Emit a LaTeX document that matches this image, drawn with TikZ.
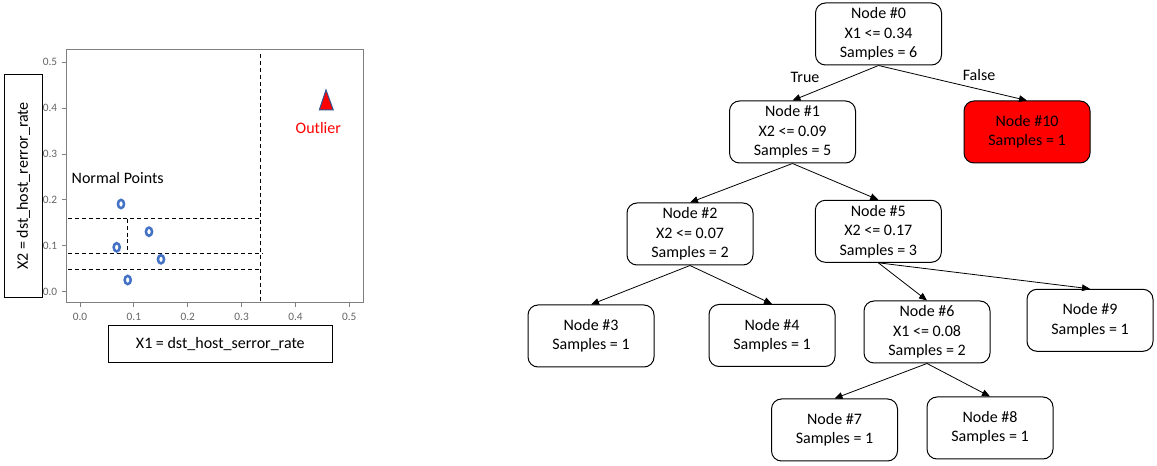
\documentclass[tikz,border=0pt]{standalone}
\usepackage{fontspec}
\setmainfont{Carlito}
\usetikzlibrary{arrows.meta}
\definecolor{ptblue}{RGB}{68,114,196}
\definecolor{edgeblue}{RGB}{47,82,143}
\definecolor{axisgray}{RGB}{128,128,128}
\definecolor{tickgray}{RGB}{100,100,100}
\tikzset{
	treenode/.style={draw,line width=0.75pt,rounded corners=7.5pt,minimum width=94.5pt,minimum height=46.5pt,inner sep=0pt,align=center},
	treearrow/.style={-{Triangle[length=6pt,width=5pt]},line width=0.6pt},
	cutline/.style={dashed,dash pattern=on 3pt off 2.2pt,line width=0.75pt},
	sample/.style={ptblue,line width=1.9pt},
	axislabel/.style={draw,line width=0.75pt,inner sep=0pt},
	ticklabel/.style={tickgray,font=\fontsize{8.5}{10}\selectfont}
}

\begin{document}
\begin{tikzpicture}[x=0.75pt,y=-0.75pt,font=\fontsize{12}{14.6}\selectfont]
	\useasboundingbox (0,0) rectangle (1157,466);
	\draw[axisgray,line width=0.75pt] (66,50) rectangle (363,303);
	\foreach \i in {0,...,5}{
		\draw[axisgray,line width=0.75pt] ({80+53.86*\i},303)--++(0,4);
		\node[ticklabel] (xt\i) at ({80+53.86*\i},316.7) {0.\i};
		\draw[axisgray,line width=0.75pt] (66,{291.7-45.87*\i})--++(-4,0);
		\node[ticklabel] (yt\i) at (50,{291.7-45.87*\i}) {0.\i};
	}
	\draw[cutline] (260.3,54)--(260.3,301.7);
	\draw[cutline] (68,218.7)--(260.3,218.7);
	\draw[cutline] (68,253.7)--(262.7,253.7);
	\draw[cutline] (68,269.7)--(260.3,269.7);
	\draw[cutline] (127.7,218.7)--(127.7,253.7);
	\foreach \px/\py in {121/204,149/231.7,116.7/247.3,161/259.3,127.7/280}
		\draw[sample] (\px,\py) ellipse [x radius=2.3pt,y radius=3.1pt];
	\filldraw[fill=red,draw=edgeblue,line width=0.75pt] (326,90)--(333.3,110)--(319.3,110)--cycle;
	\node[red] (outlier) at (318.3,128.3) {Outlier};
	\node (normal) at (117.7,177.7) {Normal Points};
	\node[axislabel,rotate=90,minimum width=167.5pt,minimum height=28.5pt] (ylabel) at (23.3,186) {X2 = dst\_host\_rerror\_rate};
	\node[axislabel,minimum width=168pt,minimum height=28pt] (xlabel) at (220.3,343.7) {X1 = dst\_host\_serror\_rate};

	\node[treenode] (n0) at (878.5,34) {Node \#0\\X1 <= 0.34\\Samples = 6};
	\node[treenode] (n1) at (792.5,132) {Node \#1\\X2 <= 0.09\\Samples = 5};
	\node[treenode,fill=red] (n10) at (1027,132) {Node \#10\\Samples = 1};
	\node[treenode] (n2) at (690,234) {Node \#2\\X2 <= 0.07\\Samples = 2};
	\node[treenode] (n5) at (878.3,231.3) {Node \#5\\X2 <= 0.17\\Samples = 3};
	\node[treenode] (n3) at (591,336) {Node \#3\\Samples = 1};
	\node[treenode] (n4) at (772,335.5) {Node \#4\\Samples = 1};
	\node[treenode] (n6) at (927,332) {Node \#6\\X1 <= 0.08\\Samples = 2};
	\node[treenode] (n9) at (1090,320.3) {Node \#9\\Samples = 1};
	\node[treenode] (n7) at (834.5,430) {Node \#7\\Samples = 1};
	\node[treenode] (n8) at (990,428) {Node \#8\\Samples = 1};
	\draw[treearrow] (n0.south)--(n1.north);
	\draw[treearrow] (n0.south)--(n10.north);
	\draw[treearrow] (n1.south)--(n2.north);
	\draw[treearrow] (n1.south)--(n5.north);
	\draw[treearrow] (n2.south)--(n3.north);
	\draw[treearrow] (n2.south)--(n4.north);
	\draw[treearrow] (n5.south)--(n6.north);
	\draw[treearrow] (n5.south)--(n9.north);
	\draw[treearrow] (n6.south)--(n7.north);
	\draw[treearrow] (n6.south)--(n8.north);
	\node (true) at (805,77) {True};
	\node (false) at (979,75) {False};
\end{tikzpicture}
\end{document}
